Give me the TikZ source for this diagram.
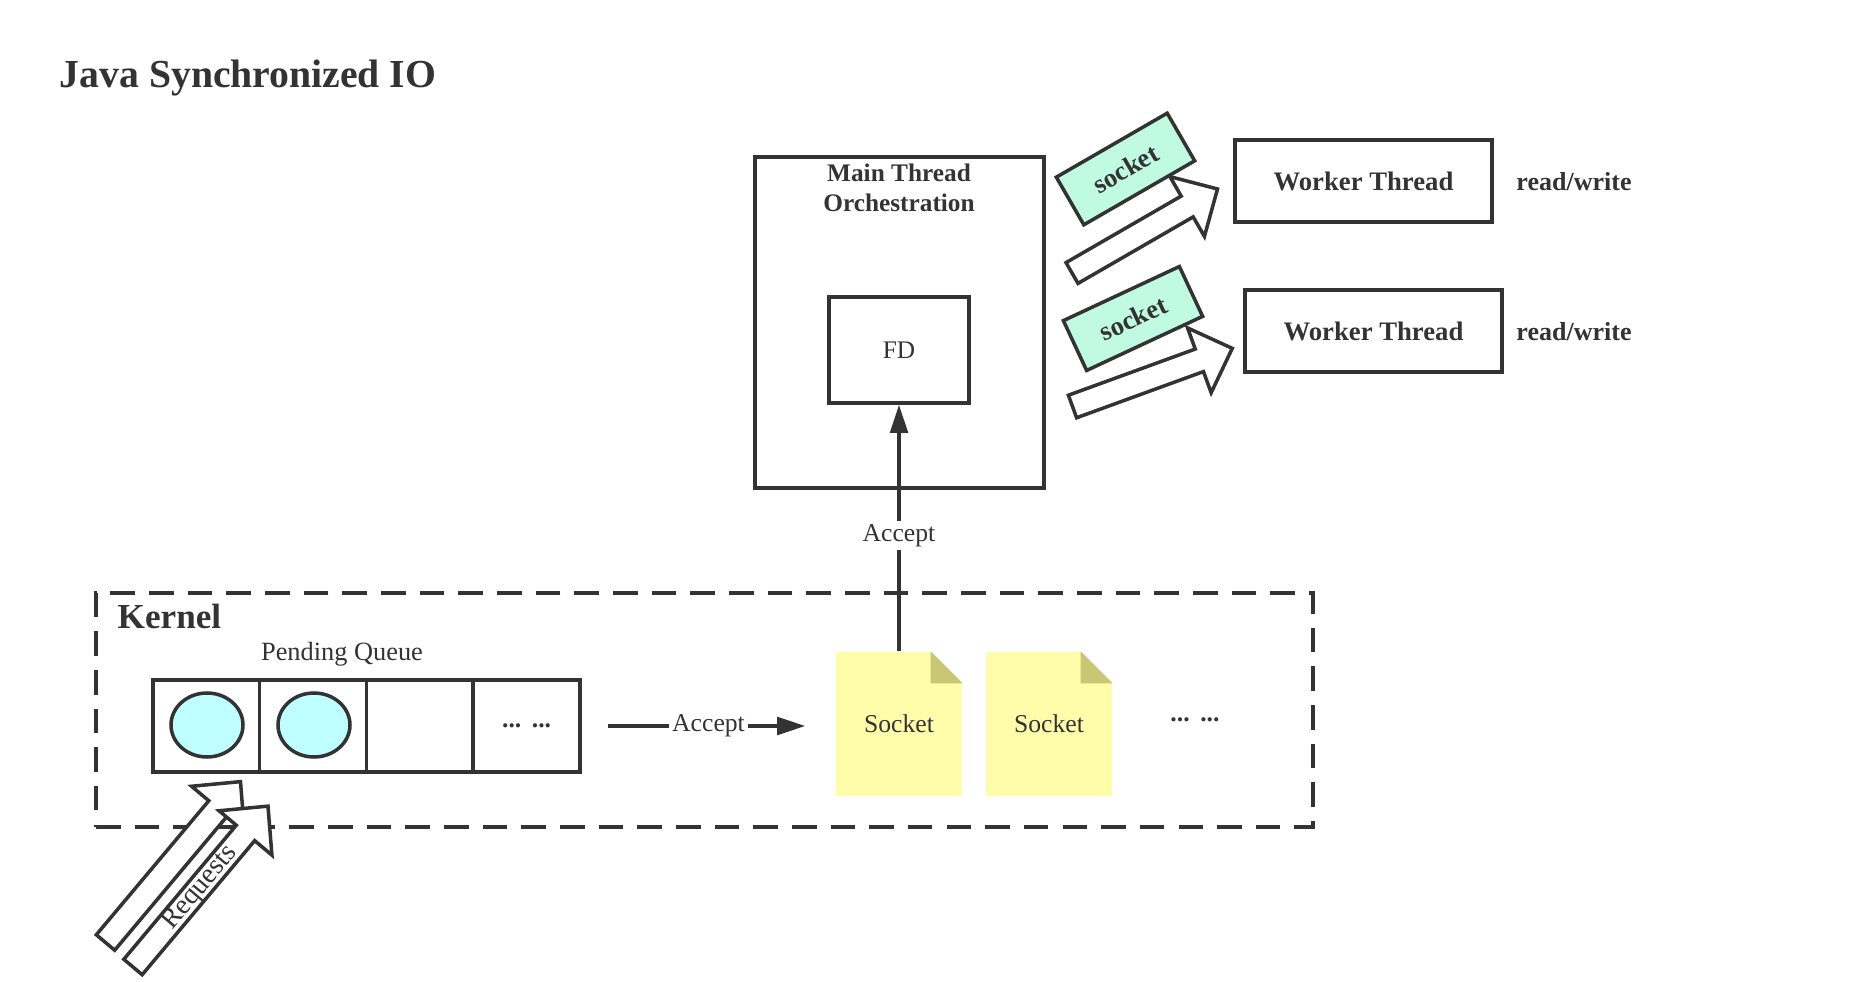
\documentclass[tikz,border=0pt]{standalone}
\usepackage{fontspec}
\setmainfont{Liberation Serif}
\usepackage{tikz}
\usetikzlibrary{shapes.geometric, arrows.meta, positioning, calc}
\definecolor{mydark}{RGB}{51,51,51}
\definecolor{mycyan}{RGB}{192,255,255}
\definecolor{mymint}{RGB}{192,250,224}
\definecolor{mynote}{RGB}{255,253,170}
\definecolor{myfold}{RGB}{201,198,116}
\tikzset{
  box/.style={rectangle, draw=mydark, line width=1pt, inner sep=0pt},
  cell/.style={box, minimum width=1.0675cm, minimum height=0.92cm},
  bubble/.style={ellipse, draw=mydark, fill=mycyan, line width=1pt,
    minimum width=0.72cm, minimum height=0.64cm, inner sep=0pt},
  note/.style={rectangle, fill=mynote, minimum width=1.26cm, minimum height=1.44cm,
    font=\fontsize{7.3}{9}\selectfont},
  tag/.style={box, fill=mymint, minimum width=1.28cm, minimum height=0.55cm,
    font=\fontsize{7.6}{10}\selectfont\bfseries},
  hollow/.style={draw=mydark, fill=white, line width=1pt, line join=miter},
  arrow/.style={-{Triangle[length=8pt,width=5pt]}, line width=1pt, color=mydark},
  lbl/.style={font=\fontsize{7.3}{9}\selectfont, inner sep=1pt},
  pics/blockarrow/.style={code={
    \draw[hollow] (0,-0.12) -- (#1-0.35,-0.12) -- (#1-0.35,-0.345) -- (#1,0)
      -- (#1-0.35,0.345) -- (#1-0.35,0.12) -- (0,0.12) -- cycle;
  }}
}
\begin{document}
\begin{tikzpicture}[text=mydark]
  \useasboundingbox (0,0) rectangle (18.5,-9.82);

  % Title
  \node[anchor=base west, inner sep=0pt, font=\fontsize{11.3}{13}\selectfont\bfseries] (title) at (0.59,-0.88) {Java Synchronized IO};

  % Kernel
  \node[box, dashed, dash pattern=on 7pt off 4pt, minimum width=12.17cm, minimum height=2.34cm] (kernel) at (7.045,-7.10) {};
  \node[anchor=west, inner sep=0pt, font=\fontsize{10}{12}\selectfont\bfseries] (kernellbl) at (1.17,-6.16) {Kernel};
  \node[font=\fontsize{7.5}{10}\selectfont] (pending) at (3.42,-6.54) {Pending Queue};

  \foreach \i in {1,...,4}
    \node[cell] (q\i) at (1.53+\i*1.0675-0.534,-7.26) {};
  \node[bubble] (b1) at (2.07,-7.25) {};
  \node[bubble] (b2) at (3.14,-7.25) {};
  \node[lbl, font=\fontsize{7.3}{9}\selectfont\bfseries] (qdots) at (q4) {...\hspace{3pt}...};

  \node[note] (sock1) at (8.99,-7.24) {Socket};
  \node[note] (sock2) at (10.49,-7.24) {Socket};
  \foreach \s in {sock1,sock2} {
    \fill[white] (\s.north east) -- ++(-0.32,0) -- ++(0.32,-0.32) -- cycle;
    \fill[myfold] ($(\s.north east)+(-0.32,0)$) -- ++(0.32,-0.32) -- ++(-0.32,0) -- cycle;
  }
  \node[lbl, font=\fontsize{7.3}{9}\selectfont\bfseries] (sdots) at (11.95,-7.20) {...\hspace{3pt}...};

  % Main thread
  \node[box, minimum width=2.89cm, minimum height=3.31cm] (main) at (8.995,-3.225) {};
  \node[align=center, font=\fontsize{7.2}{8.6}\selectfont\bfseries] (mainlbl) at (8.99,-1.88) {Main Thread\\Orchestration};
  \node[box, minimum width=1.40cm, minimum height=1.06cm, font=\fontsize{7.2}{9}\selectfont] (fd) at (8.99,-3.50) {FD};

  % Workers
  \node[box, minimum width=2.57cm, minimum height=0.82cm, font=\fontsize{7.6}{9}\selectfont\bfseries] (wt1) at (13.635,-1.81) {Worker Thread};
  \node[box, minimum width=2.57cm, minimum height=0.82cm, font=\fontsize{7.6}{9}\selectfont\bfseries] (wt2) at (13.735,-3.31) {Worker Thread};
  \node[font=\fontsize{7.4}{9}\selectfont\bfseries] (rw1) at (15.74,-1.82) {read/write};
  \node[font=\fontsize{7.4}{9}\selectfont\bfseries] (rw2) at (15.74,-3.32) {read/write};

  % Hand-off arrows
  \pic[rotate=30] at (10.72,-2.73) {blockarrow=1.68};
  \pic[rotate=20] at (10.725,-4.065) {blockarrow=1.70};
  \node[tag, rotate=30] (tag1) at (11.255,-1.69) {socket};
  \node[tag, rotate=25] (tag2) at (11.33,-3.185) {socket};

  % Requests
  \pic[rotate=50] at (1.055,-9.425) {blockarrow=2.10};
  \pic[rotate=50] at (1.33,-9.67) {blockarrow=2.10};
  \node[rotate=50, font=\fontsize{8}{10}\selectfont, inner sep=0pt] (reqlbl) at (2.00,-8.88) {Requests};

  % Connections
  \draw[arrow, shorten <=0.26cm, shorten >=0.30cm] (q4.east) -- node[lbl, fill=white] {Accept} (q4.east -| sock1.west);
  \draw[arrow] (sock1.north) -- node[lbl, fill=white, pos=0.47] {Accept} (fd.south);
\end{tikzpicture}
\end{document}
